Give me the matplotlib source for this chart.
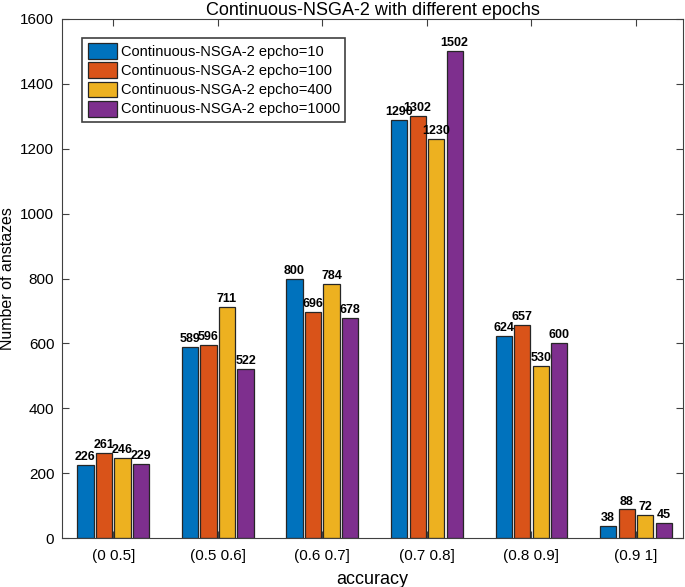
import matplotlib
matplotlib.use("Agg")
import matplotlib.pyplot as plt
import numpy as np

plt.rcParams['font.family'] = ['Liberation Sans', 'DejaVu Sans']

categories = ['(0 0.5]', '(0.5 0.6]', '(0.6 0.7]', '(0.7 0.8]', '(0.8 0.9]', '(0.9 1]']
series_names = ['Continuous-NSGA-2 epcho=10', 'Continuous-NSGA-2 epcho=100',
                'Continuous-NSGA-2 epcho=400', 'Continuous-NSGA-2 epcho=1000']
epoch10 = [226, 589, 800, 1290, 624, 38]
epoch100 = [261, 596, 696, 1302, 657, 88]
epoch400 = [246, 711, 784, 1230, 530, 72]
epoch1000 = [229, 522, 678, 1502, 600, 45]
colors = ['#0072BD', '#D95319', '#EDB120', '#7E2F8E']

series = [epoch10, epoch100, epoch400, epoch1000]

fig = plt.figure(figsize=(6.85, 5.87), dpi=100)
ax = fig.add_axes([62/685, 1-538/587, (683-62)/685, (538-19)/587])

x = np.arange(1, len(categories) + 1)
step = 0.177
width = 0.155
for i, (vals, c, name) in enumerate(zip(series, colors, series_names)):
    pos = x + (i - 1.5) * step
    ax.bar(pos, vals, width, color=c, edgecolor='#262626', linewidth=0.9, label=name)
    for p, v in zip(pos, vals):
        ax.text(p, v + 6, str(v), ha='center', va='bottom', fontsize=9,
                fontweight='bold')

ax.set_xlim(0.51, 6.45)
ax.set_ylim(0, 1600)
ax.set_yticks(np.arange(0, 1601, 200))
ax.set_xticks(x)
ax.set_xticklabels(categories)
ax.tick_params(axis='both', direction='in', top=True, right=True, labelsize=11, length=5,
               color='#404040')
ax.tick_params(axis='x', pad=8)
ax.tick_params(axis='y', pad=5.5)
for s in ax.spines.values():
    s.set_color('#404040')
    s.set_linewidth(0.8)
ax.set_xlabel('accuracy', fontsize=13, labelpad=5.5)
ax.set_ylabel('Number of anstazes', fontsize=11.5, labelpad=4)
ax.set_title('Continuous-NSGA-2 with different epochs', fontsize=13, pad=3)

leg = ax.legend(loc='upper left', bbox_to_anchor=(0.033, 0.963), fontsize=10.5,
                fancybox=False, edgecolor='#404040', framealpha=1,
                handlelength=2.0, handleheight=1.3, handletextpad=0.3,
                labelspacing=0.22, borderpad=0.35, borderaxespad=0)
leg.get_frame().set_linewidth(1.2)

fig.savefig('out.png', dpi=100)
